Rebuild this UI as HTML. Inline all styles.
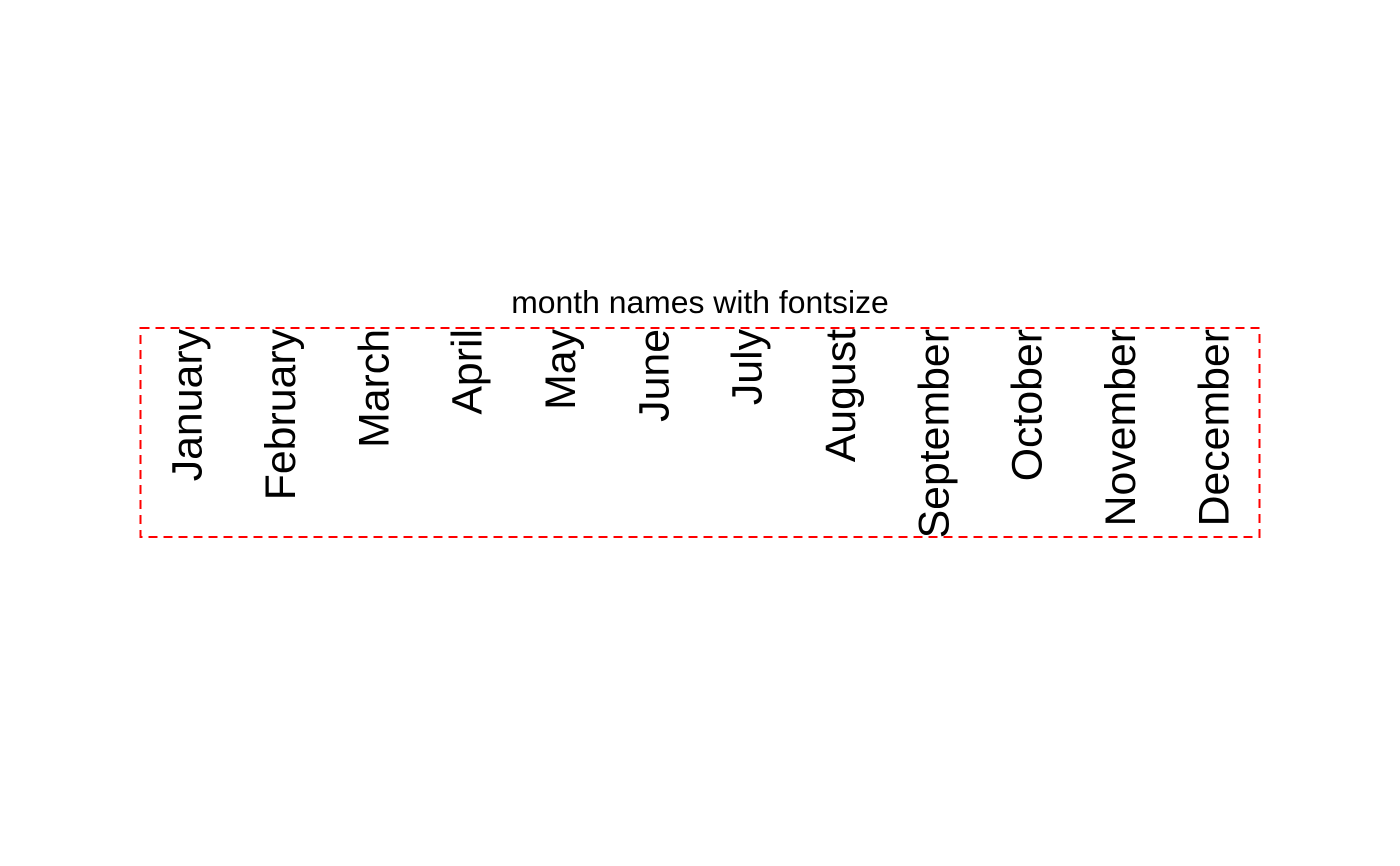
<!DOCTYPE html>
<html><head><meta charset="utf-8"><style>
html,body{margin:0;padding:0;background:#fff;}
svg{display:block;}
text{font-family:"Liberation Sans",Arial,sans-serif;fill:#000;}
</style></head><body>
<svg id="chart" width="1400" height="866" viewBox="0 0 1400 866">
<rect x="0" y="0" width="1400" height="866" fill="#fff"/>
<text x="700" y="313" text-anchor="middle" font-size="31.9">month names with fontsize</text>
<rect x="140.5" y="328" width="1119" height="209" fill="none" stroke="#ff0000" stroke-width="2" stroke-dasharray="9,6"/>
<g id="labels"></g>
</svg>
<script>
const months = ["January","February","March","April","May","June","July","August","September","October","November","December"];
const g = document.getElementById('labels');
const x0 = 140, x1 = 1260, topY = 329;
const step = (x1 - x0) / months.length;
months.forEach((m, i) => {
  const cx = x0 + step * (i + 0.5) + 15;
  const t = document.createElementNS('http://www.w3.org/2000/svg', 'text');
  t.setAttribute('transform', `translate(${cx},${topY}) rotate(-90)`);
  t.setAttribute('text-anchor', 'end');
  t.setAttribute('font-size', '42.8');
  t.textContent = m;
  
  
  g.appendChild(t);
});
</script>
</body></html>
